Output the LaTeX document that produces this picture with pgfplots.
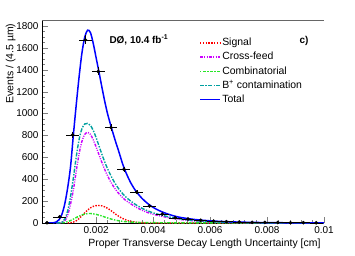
\documentclass[border=0pt]{standalone}
\usepackage{pgfplots}
\usepackage{pgfplotstable}
\pgfplotsset{compat=1.18}
\usepackage{fontspec}
\setmainfont{Liberation Sans}
\definecolor{colA}{RGB}{255,0,0}
\definecolor{colM}{RGB}{204,0,255}
\definecolor{colG}{RGB}{40,230,40}
\definecolor{colT}{RGB}{0,160,160}
\definecolor{colU}{RGB}{0,0,255}
\pgfplotstableread{
x y ex ey
0.000275 2 0.000225 1.4
0.000725 57 0.000225 7.5
0.001175 805 0.000225 28
0.001625 1673 0.000225 41
0.002075 1385 0.000225 37
0.002525 873 0.000225 30
0.002975 491 0.000225 22
0.003425 282 0.000225 17
0.003875 155 0.000225 12.5
0.004325 82 0.000225 9
0.004775 48 0.000225 7
0.005225 36 0.000225 6
0.005675 25 0.000225 5
0.006125 18 0.000225 4.2
0.006575 12 0.000225 3.5
0.007025 9 0.000225 3
0.007475 6 0.000225 2.4
0.007925 5 0.000225 2.2
0.008375 4 0.000225 2
0.008825 3 0.000225 1.7
0.009275 3 0.000225 1.7
0.009725 2 0.000225 1.4
}\datatable
\begin{document}
\begin{tikzpicture}
\useasboundingbox (-42bp,-33bp) rectangle (313bp,223bp);
\begin{axis}[
  at={(0,0)}, anchor=south west,
  scale only axis, width=282bp, height=203bp,
  xmin=0.0001, xmax=0.01, ymin=0, ymax=1855,
  axis lines*=left,
  axis line style={black},
  tick align=inside,
  major tick length=6bp, minor tick length=3bp,
  xtick={0.002,0.004,0.006,0.008,0.01},
  ytick={0,200,400,600,800,1000,1200,1400,1600,1800},
  minor x tick num=4, minor y tick num=3,
  scaled x ticks=false, scaled y ticks=false,
  /pgf/number format/assume math mode=true,
  /pgf/number format/1000 sep={},
  xticklabel style={/pgf/number format/fixed, /pgf/number format/precision=3},
  ticklabel style={font=\fontsize{10}{12}\selectfont},
  xlabel={Proper Transverse Decay Length Uncertainty [cm]},
  ylabel={Events / (4.5 µm)},
  every axis x label/.style={at={(axis description cs:1,-0.1158)}, anchor=base east, font=\fontsize{10.5}{12}\selectfont},
  every axis y label/.style={at={(axis description cs:-0.1011,1)}, rotate=90, anchor=base east, font=\fontsize{10.5}{12}\selectfont},
  legend style={at={(axis description cs:0.557,0.914)}, anchor=north west, draw=none, fill=none, inner sep=0pt,
    font=\fontsize{10.5}{12}\selectfont, row sep=3.7bp, column sep=1bp,
    nodes={inner sep=0.5bp, text height=7.5bp, text depth=2bp}},
  legend cell align=left,
  legend image code/.code={\draw[#1] (0bp,0bp) -- (20bp,0bp);},
]
% Signal
\addplot[colA, line width=1.4bp, dash pattern=on 1.4bp off 1.4bp, smooth] table {
0.0010 0
0.0011 3
0.0012 8
0.0013 20
0.0014 40
0.0015 65
0.0016 92
0.0017 118
0.0018 138
0.0019 152
0.0020 159
0.0021 160
0.0022 157
0.0023 148
0.0024 135
0.0025 118
0.0026 98
0.0027 78
0.0028 60
0.0029 45
0.0030 33
0.0031 23
0.0032 16
0.0034 7
0.0036 3
0.0040 0.5
0.0060 0
0.0100 0
};
\addlegendentry{Signal}
% Cross-feed
\addplot[colM, line width=1.4bp, dash pattern=on 3bp off 1.3bp on 1bp off 1.3bp on 1bp off 1.3bp, smooth] table {
0.0006 0
0.0008 4
0.0009 20
0.0010 70
0.0011 170
0.0012 300
0.0013 470
0.0014 630
0.0015 745
0.0016 810
0.0017 828
0.0018 810
0.0019 760
0.0020 695
0.0021 625
0.0022 555
0.0023 490
0.0024 432
0.0025 382
0.0026 338
0.0027 300
0.0028 268
0.0029 240
0.0030 215
0.0032 178
0.0034 145
0.0036 118
0.0038 97
0.0040 80
0.0042 68
0.0044 56
0.0046 46
0.0048 38
0.0050 31
0.0055 18
0.0060 10
0.0065 6
0.0070 3.5
0.0080 1.2
0.0090 0.5
0.0100 0.2
};
\addlegendentry{Cross-feed}
% Combinatorial
\addplot[colG, line width=1.4bp, dash pattern=on 1.4bp off 1.4bp on 3bp off 1.4bp, smooth] table {
0.0007 0
0.0009 5
0.0010 12
0.0011 22
0.0012 35
0.0013 50
0.0014 63
0.0015 74
0.0016 82
0.0017 86
0.0018 87
0.0019 84
0.0020 79
0.0021 72
0.0022 64
0.0023 55
0.0024 46
0.0025 38
0.0026 31
0.0027 25
0.0028 20
0.0030 13
0.0032 9
0.0035 5
0.0040 3
0.0050 1.5
0.0070 0.7
0.0100 0.3
};
\addlegendentry{Combinatorial}
% B+ contamination
\addplot[colT, line width=1.4bp, dash pattern=on 4bp off 1.4bp on 1.4bp off 1.4bp, smooth] table {
0.0006 0
0.0008 8
0.0009 35
0.0010 110
0.0011 240
0.0012 410
0.0013 600
0.0014 760
0.0015 860
0.0016 905
0.0017 910
0.0018 893
0.0019 845
0.0020 780
0.0021 705
0.0022 630
0.0023 560
0.0024 497
0.0025 442
0.0026 392
0.0027 348
0.0028 310
0.0029 277
0.0030 248
0.0032 203
0.0034 166
0.0036 136
0.0038 112
0.0040 93
0.0042 78
0.0044 65
0.0046 53
0.0048 44
0.0050 36
0.0055 21
0.0060 12
0.0065 7
0.0070 4
0.0080 1.4
0.0090 0.6
0.0100 0.3
};
\addlegendentry{B\textsuperscript{+} contamination}
% Total
\addplot[colU, line width=1.5bp, smooth] table {
0.0003 0
0.0004 0.5
0.0005 2
0.0006 9
0.0007 30
0.0008 80
0.0009 175
0.0010 320
0.0011 510
0.0012 800
0.0013 1075
0.0014 1330
0.0015 1550
0.0016 1698
0.0017 1762
0.0018 1740
0.0019 1640
0.0020 1510
0.0021 1380
0.0022 1245
0.0023 1115
0.0024 1000
0.0025 905
0.0026 815
0.0027 730
0.0028 650
0.0029 565
0.0030 490
0.0031 430
0.0032 375
0.0033 330
0.0034 290
0.0036 228
0.0038 180
0.0040 143
0.0042 115
0.0044 93
0.0046 75
0.0048 60
0.0050 49
0.0055 31
0.0060 20
0.0065 13
0.0070 8.5
0.0075 5.5
0.0080 3.6
0.0085 2.4
0.0090 1.6
0.0095 1.1
0.0100 0.7
};
\addlegendentry{Total}
% Data
\addplot[black, only marks, mark=*, mark size=1.6bp, forget plot,
  error bars/.cd, x dir=both, x explicit, y dir=both, y explicit, error mark=none]
  table[x=x, y=y, x error=ex, y error=ey] {\datatable};
\draw[gray!80!black, line width=0.6bp] (rel axis cs:0,1) -- (rel axis cs:1,1) -- (rel axis cs:1,0);
\node[anchor=base west, font=\bfseries\fontsize{10}{12}\selectfont] at (axis description cs:0.227,0.885) {DØ, 10.4 fb\textsuperscript{-1}};
\node[anchor=base west, font=\bfseries\fontsize{10}{12}\selectfont] at (axis description cs:0.901,0.886) {c)};
\end{axis}
\end{tikzpicture}
\end{document}
